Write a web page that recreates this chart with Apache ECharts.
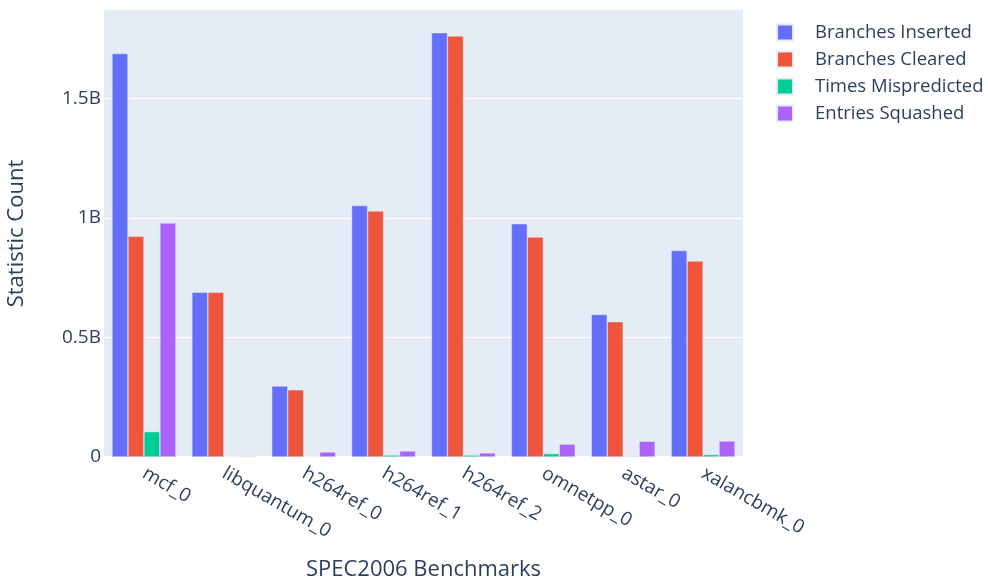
<!DOCTYPE html>
<html>
<head>
    <meta charset="utf-8">
    <title>SPEC2006 branch statistics</title>
    <script src="https://cdn.jsdelivr.net/npm/echarts@6/dist/echarts.min.js"></script>
</head>
<body style="margin:0">
<div id="main" style="width: 988px;height:580px;"></div>
<script type="text/javascript">
    // benchmarks on the x axis
    const benchmarks = ['mcf_0', 'libquantum_0', 'h264ref_0', 'h264ref_1', 'h264ref_2', 'omnetpp_0', 'astar_0', 'xalancbmk_0'];

    // values (counts)
    const branchesInserted = [1.688e9, 0.689e9, 0.297e9, 1.052e9, 1.775e9, 0.976e9, 0.596e9, 0.864e9];
    const branchesCleared = [0.923e9, 0.689e9, 0.281e9, 1.029e9, 1.761e9, 0.920e9, 0.566e9, 0.820e9];
    const timesMispredicted = [0.106e9, 0.002e9, 0.002e9, 0.008e9, 0.008e9, 0.014e9, 0.003e9, 0.010e9];
    const entriesSquashed = [0.979e9, 0.003e9, 0.021e9, 0.025e9, 0.017e9, 0.054e9, 0.066e9, 0.067e9];

    const seriesNames = ['Branches Inserted', 'Branches Cleared', 'Times Mispredicted', 'Entries Squashed'];
    const seriesColors = ['#636EFA', '#EF553B', '#00CC96', '#AB63FA'];
    const seriesData = [branchesInserted, branchesCleared, timesMispredicted, entriesSquashed];

    const textColor = '#2a3f5f';
    const fontFamily = '"Open Sans", Verdana, Arial, sans-serif';

    let myChart = echarts.init(document.getElementById('main'));

    myChart.setOption({
        animation: false,
        textStyle: { fontFamily: fontFamily, color: textColor },
        grid: {
            left: 104,
            top: 10,
            width: 639,
            height: 447,
            outerBoundsMode: 'none',
            containLabel: false,
            show: true,
            backgroundColor: '#E5ECF6',
            borderWidth: 0
        },
        legend: {
            orient: 'vertical',
            left: 771,
            top: 18,
            itemWidth: 16,
            itemHeight: 16,
            itemGap: 8,
            icon: 'rect',
            textStyle: { fontSize: 18.5, lineHeight: 16, color: textColor, fontFamily: fontFamily, padding: [0, 0, 0, 17] },
            data: seriesNames
        },
        xAxis: {
            type: 'category',
            data: benchmarks,
            name: 'SPEC2006 Benchmarks',
            nameLocation: 'middle',
            nameGap: 102,
            nameTextStyle: { fontSize: 22, color: textColor },
            axisLine: { show: true, lineStyle: { color: '#ffffff', width: 2 } },
            axisTick: { show: false },
            axisLabel: {
                rotate: -30,
                fontSize: 19,
                color: textColor,
                margin: 15
            }
        },
        yAxis: {
            type: 'value',
            min: 0,
            max: 1.87e9,
            interval: 0.5e9,
            name: 'Statistic Count',
            nameLocation: 'middle',
            nameGap: 76,
            nameTextStyle: { fontSize: 22, color: textColor },
            axisLine: { show: false },
            axisTick: { show: false },
            splitLine: { show: true, showMaxLine: false, lineStyle: { color: '#ffffff', width: 1 } },
            axisLabel: {
                fontSize: 19,
                color: textColor,
                margin: 3,
                showMaxLabel: false,
                formatter: function (v) {
                    if (v === 0) return '0';
                    if (v % 0.5e9 !== 0) return '';
                    return (v / 1e9) + 'B';
                }
            }
        },
        series: seriesNames.map(function (name, i) {
            return {
                name: name,
                type: 'bar',
                data: seriesData[i],
                barGap: '0%',
                barCategoryGap: '20%',
                itemStyle: {
                    color: seriesColors[i],
                    borderColor: '#E5ECF6',
                    borderWidth: 0.5
                }
            };
        })
    });
</script>
</body>
</html>
